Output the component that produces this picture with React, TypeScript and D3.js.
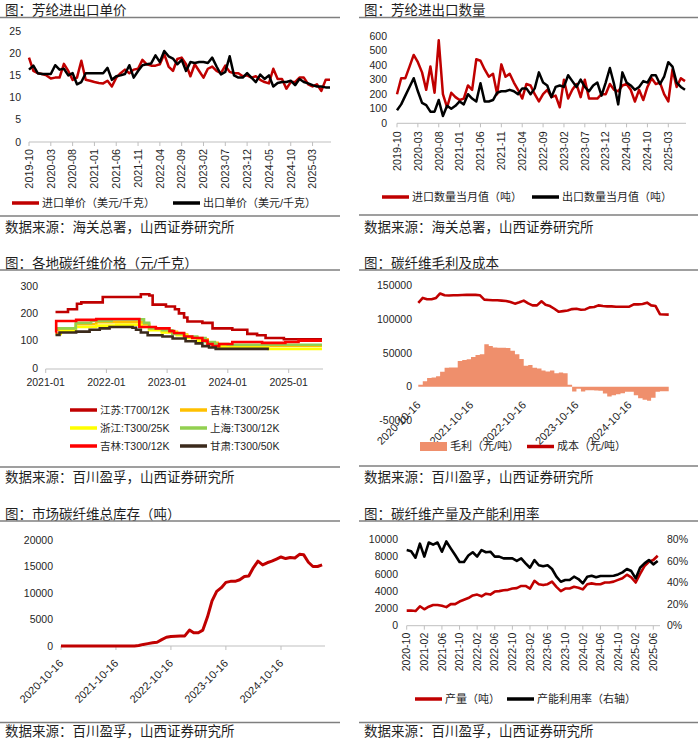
import * as d3 from "d3";

const FONT = "'Liberation Sans','Noto Sans CJK SC',sans-serif";
const INK = "#1f1f1f";
const AXIS_GREY = "#bfbfbf";
const RULE_GREY = "#7f7f7f";
const RED = "#C00000";

const fmtMonth = d3.timeFormat("%Y-%m");
const fmtDay = d3.timeFormat("%Y-%m-%d");
const parseDay = d3.timeParse("%Y-%m-%d");

// ---------- 芳纶进出口 (monthly 2019-10 … 2025-07)
const aramidMonths = d3.timeMonth.range(new Date(2019, 9, 1), new Date(2025, 7, 1)).map(fmtMonth);
const importPrice = [
  19, 16, 15.5, 15.3, 15, 14.3, 14.5, 14.5, 17.6, 16,
  14, 14.5, 18.3, 14, 13.8, 13.5, 13.3, 13.2, 13.8, 12.5,
  14.5, 15.5, 16.3, 15.5, 16.3, 16.5, 18.5, 17.5, 17.2, 17.2,
  17.5, 19.8, 17, 16, 18.7, 19, 17.5, 14.8, 17.5, 16,
  14.5, 16.5, 17, 16, 15.5, 17.2, 15.8, 15.5, 15.5, 14.8,
  15, 14.5, 14.8, 14, 13.5, 13.2, 16.5, 14.2, 14.2, 12,
  13.5, 13.5, 14.5, 14.5, 13, 12.5, 13, 11.5, 14, 14,
];
const exportPrice = [
  16.3, 17.2, 15.5, 15.3, 15.3, 15.3, 17.3, 16.3, 16.5, 15,
  15.5, 13, 13.5, 15.5, 15.5, 15.5, 15.5, 15.5, 16.7, 14,
  14.8, 15, 15.3, 17.3, 14.5, 16, 17.3, 17.5, 17.7, 19.5,
  18, 20.5, 19.3, 18.8, 17.5, 18.5, 16, 18, 17.8, 18,
  18, 17.8, 19, 17, 15.2, 15.8, 19.3, 15, 14.5, 14.5,
  15.5, 14.5, 13.5, 15.2, 14.2, 15, 12.5, 13.3, 13.5, 13.5,
  13.8, 12.8, 14.2, 13.5, 13.2, 12.8, 12.5, 12.5, 12.3, 12.3,
];
const importQty = [
  200, 310, 310, 390, 470, 420, 350, 230, 390, 210,
  570, 200, 110, 210, 180, 160, 170, 260, 230, 440,
  430, 370, 320, 340, 200, 405, 320, 340, 280, 230,
  170, 270, 260, 200, 150, 200, 230, 180, 190, 110,
  300, 170, 230, 270, 180, 300, 170, 170, 170, 200,
  200, 270, 230, 220, 260, 270, 230, 150, 230, 160,
  250, 310, 270, 280, 200, 150, 370, 250, 310, 290,
];
const exportQty = [
  90, 130, 190, 250, 310, 220, 140, 125, 80, 80,
  160, 50, 120, 100, 120, 150, 130, 200, 170, 150,
  275, 150, 150, 160, 210, 220, 220, 230, 220, 200,
  240, 240, 200, 240, 350, 280, 260, 180, 250, 260,
  250, 330, 290, 250, 300, 250, 220, 260, 280, 190,
  280, 380, 270, 130, 350, 280, 260, 230, 250, 290,
  280, 330, 330, 270, 320, 420, 390, 280, 250, 230,
];
const priceTicks = [0, 5, 10, 15, 20, 25];
const qtyTicks = [0, 100, 200, 300, 400, 500, 600];

// ---------- 各地碳纤维价格 (元/千克), step series [change date, price]
const cfJiangsuT700: [string, number][] = [
  ["2021-03-01", 205], ["2021-05-15", 215], ["2021-07-08", 235], ["2021-08-03", 240],
  ["2021-12-10", 260], ["2022-07-27", 270], ["2022-09-16", 265], ["2022-10-06", 232],
  ["2022-12-25", 225], ["2023-02-17", 215], ["2023-03-13", 200], ["2023-04-13", 185],
  ["2023-05-03", 170], ["2023-08-01", 165], ["2023-10-01", 145], ["2024-01-28", 140],
  ["2024-04-27", 125], ["2024-06-25", 120], ["2024-08-15", 110], ["2024-12-03", 105],
  ["2025-07-20", 105],
];
const cfJilinT300_25K: [string, number][] = [
  ["2021-03-01", 140], ["2021-07-01", 160], ["2021-11-01", 168], ["2022-08-01", 160],
  ["2022-09-15", 140], ["2022-12-01", 132], ["2023-03-01", 122], ["2023-05-01", 112],
  ["2023-07-01", 105], ["2023-09-01", 92], ["2023-11-01", 85], ["2024-01-01", 82],
  ["2025-07-20", 82],
];
const cfZhejiangT300_25K: [string, number][] = [
  ["2021-03-01", 125], ["2021-04-01", 135], ["2021-07-01", 150], ["2021-11-01", 155],
  ["2022-03-01", 158], ["2022-08-01", 150], ["2022-09-15", 138], ["2022-12-01", 130],
  ["2023-03-01", 120], ["2023-05-01", 110], ["2023-07-01", 100], ["2023-09-01", 88],
  ["2023-11-01", 78], ["2024-01-01", 75], ["2024-09-01", 70], ["2025-07-20", 70],
];
const cfShanghaiT300_12K: [string, number][] = [
  ["2021-03-01", 145], ["2021-07-01", 165], ["2021-10-01", 172], ["2022-02-01", 178],
  ["2022-08-15", 165], ["2022-09-15", 145], ["2022-12-01", 138], ["2023-02-01", 125],
  ["2023-04-15", 115], ["2023-07-01", 110], ["2023-08-20", 95], ["2023-10-15", 88],
  ["2024-01-01", 85], ["2025-07-20", 85],
];
const cfJilinT300_12K: [string, number][] = [
  ["2021-03-01", 130], ["2021-03-05", 172], ["2021-07-03", 176], ["2021-11-01", 179],
  ["2022-07-18", 150], ["2022-10-25", 145], ["2023-01-15", 135], ["2023-02-12", 128],
  ["2023-04-13", 115], ["2023-06-01", 110], ["2023-08-01", 100], ["2023-09-01", 88],
  ["2023-10-01", 80], ["2023-11-10", 88], ["2024-01-28", 95], ["2024-07-25", 92],
  ["2024-12-12", 95], ["2025-03-01", 100], ["2025-07-20", 100],
];
const cfGansuT300_50K: [string, number][] = [
  ["2021-03-01", 121], ["2021-03-25", 130], ["2021-07-03", 133], ["2021-09-22", 140],
  ["2021-11-22", 145], ["2022-01-20", 150], ["2022-06-07", 147], ["2022-06-28", 140],
  ["2022-07-27", 130], ["2022-09-06", 120], ["2022-12-04", 115], ["2023-02-03", 108],
  ["2023-04-22", 98], ["2023-06-22", 90], ["2023-08-01", 80], ["2023-09-10", 75],
  ["2023-10-20", 70], ["2024-09-04", 70],
];
const cfPriceSeries = [
  { name: "江苏:T700/12K", color: "#C00000", data: cfJiangsuT700 },
  { name: "吉林:T300/25K", color: "#FFC000", data: cfJilinT300_25K },
  { name: "浙江:T300/25K", color: "#FFFF00", data: cfZhejiangT300_25K },
  { name: "上海:T300/12K", color: "#92D050", data: cfShanghaiT300_12K },
  { name: "吉林:T300/12K", color: "#FF0000", data: cfJilinT300_12K },
  { name: "甘肃:T300/50K", color: "#3B2A1C", data: cfGansuT300_50K },
];
const cfPriceTicks = [0, 100, 200, 300];
const cfPriceYears = ["2021-01-01", "2022-01-01", "2023-01-01", "2024-01-01", "2025-01-01"];

// ---------- 毛利及成本 / 库存 (mid-month from 2020-10-16)
const cfMidMonths = d3
  .timeMonth.range(new Date(2020, 9, 1), new Date(2025, 7, 1))
  .map((d) => d3.timeDay.offset(d, 15));
const cfCost = [
  123500, 131000, 129000, 129000, 131000, 137500, 135000, 134500, 135000, 135000,
  135300, 135500, 135500, 135500, 135000, 128500, 128000, 127500, 127500, 127000,
  126500, 125000, 122500, 124500, 127000, 123000, 120000, 120000, 126000, 121000,
  119000, 115000, 110500, 111500, 112500, 114500, 115000, 113500, 114000, 117000,
  117500, 120000, 119000, 118500, 118500, 118000, 118000, 118000, 118000, 121500,
  121500, 122000, 124000, 120000, 119000, 107000, 106500, 106300,
];
const cfProfit = [
  3000, 8000, 13000, 13700, 15500, 22000, 28000, 28500, 28500, 38000,
  39500, 40500, 44000, 47000, 48000, 62500, 60000, 58000, 57500, 57500,
  57000, 53000, 48000, 41000, 31000, 32000, 28000, 27000, 24000, 22500,
  24000, 20000, 21000, 20000, 3000, -7000, -3000, -7000, -5000, -5000,
  -5500, -6000, -10000, -14500, -12500, -11000, -9500, -7500, -7500, -12500,
  -17000, -19000, -20500, -16000, -7500, -6500, -6500, -6500,
];
const cfInventory = [
  0, 0, 0, 0, 0, 0, 0, 0, 0, 0,
  0, 0, 0, 0, 0, 0, 0, 100, 300, 450,
  600, 700, 1200, 1650, 1800, 1850, 1900, 1900, 3000, 2500,
  2500, 3000, 5500, 8500, 10300, 11000, 12000, 12200, 12200, 12500,
  13100, 13200, 14800, 16000, 15300, 15700, 16000, 16400, 16800, 16500,
  16700, 16600, 17300, 17200, 15800, 15000, 15000, 15300,
];
const cfYearTicks = ["2020-10-16", "2021-10-16", "2022-10-16", "2023-10-16", "2024-10-16"];
const profitTicks = [-50000, 0, 50000, 100000, 150000];
const inventoryTicks = [0, 5000, 10000, 15000, 20000];

// ---------- 产量及产能利用率 (monthly 2020-10 … 2025-07)
const prodMonths = d3.timeMonth.range(new Date(2020, 9, 1), new Date(2025, 7, 1)).map(fmtMonth);
const cfOutput = [
  1750, 1750, 1700, 2250, 1900, 2200, 2400, 2400, 2300, 2150,
  2500, 2500, 2800, 3000, 3200, 3500, 3600, 3400, 3700, 3600,
  3950, 4000, 4100, 4150, 4300, 4350, 4600, 4600, 4300, 5200,
  4800, 4700, 4800, 5100, 4500, 4000, 4300, 4300, 4500, 4400,
  4200, 4800, 4900, 4800, 4800, 5000, 5000, 5100, 5300, 5500,
  5900, 5600, 5000, 6000, 6900, 7400, 7600, 8100,
];
const cfUtil = [
  0.7, 0.69, 0.63, 0.76, 0.64, 0.77, 0.75, 0.77, 0.685, 0.78,
  0.716, 0.654, 0.59, 0.59, 0.65, 0.68, 0.64, 0.7, 0.68, 0.685,
  0.64, 0.64, 0.623, 0.623, 0.623, 0.6, 0.623, 0.577, 0.537, 0.608,
  0.56, 0.55, 0.56, 0.525, 0.454, 0.407, 0.423, 0.423, 0.454, 0.432,
  0.392, 0.454, 0.463, 0.448, 0.46, 0.46, 0.46, 0.463, 0.475, 0.494,
  0.525, 0.506, 0.438, 0.537, 0.577, 0.608, 0.568, 0.6,
];
const outputTicks = [0, 2000, 4000, 6000, 8000, 10000];
const utilTicks = [0, 0.2, 0.4, 0.6, 0.8];

function Frame({ x0, x1, titleY, title, sepY, sourceY, source }: {
  x0: number; x1: number; titleY: number; title: string; sepY: number; sourceY: number; source: string;
}) {
  return (
    <g>
      <text x={x0 + 5} y={titleY - 2.5} fontSize={13.5} fill={INK}>{title}</text>
      <line x1={x0} x2={x1} y1={titleY} y2={titleY} stroke={RULE_GREY} strokeWidth={1.3} />
      <line x1={x0} x2={x1} y1={sepY} y2={sepY} stroke={RULE_GREY} strokeWidth={1.3} />
      <text x={x0 + 5} y={sourceY} fontSize={13.5} fill={INK}>{source}</text>
    </g>
  );
}

function LegendLine({ x, y, color, label, w = 27 }: { x: number; y: number; color: string; label: string; w?: number }) {
  return (
    <g>
      <line x1={x} x2={x + w} y1={y} y2={y} stroke={color} strokeWidth={3.5} />
      <text x={x + w + 3} y={y} dy="0.36em" fontSize={11} fill={INK}>{label}</text>
    </g>
  );
}

function YLabels({ ticks, scale, x, fmt = (v: number) => String(v), anchor = "end" }: {
  ticks: number[]; scale: (v: number) => number; x: number; fmt?: (v: number) => string; anchor?: string;
}) {
  return (
    <g>
      {ticks.map((t) => (
        <text key={t} x={x} y={scale(t)} dy="0.35em" textAnchor={anchor} fontSize={10.5} fill={INK}>{fmt(t)}</text>
      ))}
    </g>
  );
}

function MonthlyChart({ values, colors, yTicks, yDomain, yRange, xRange, labelX, labelGap, legend, legendY }: {
  values: number[][]; colors: string[]; yTicks: number[]; yDomain: [number, number]; yRange: [number, number];
  xRange: [number, number]; labelX: number; labelGap: number; legend: { x: number; label: string }[]; legendY: number;
}) {
  const x = d3.scalePoint<string>().domain(aramidMonths).range(xRange);
  const y = d3.scaleLinear(yDomain, yRange);
  const base = y(0);
  const line = d3.line<number>().x((_, i) => x(aramidMonths[i])!).y((v) => y(v));
  const shown = aramidMonths.filter((_, i) => i % 5 === 0);
  return (
    <g>
      <YLabels ticks={yTicks} scale={y} x={labelX} />
      <line x1={xRange[0]} x2={xRange[1] + 1} y1={base} y2={base} stroke={AXIS_GREY} />
      {shown.map((m) => (
        <g key={m}>
          <line x1={x(m)} x2={x(m)} y1={base} y2={base + 4} stroke={AXIS_GREY} />
          <text transform={`translate(${x(m)},${base + labelGap}) rotate(-90)`} textAnchor="end" dy="0.35em" fontSize={10.8} fill={INK}>{m}</text>
        </g>
      ))}
      {values.map((vals, k) => (
        <path key={k} d={line(vals)!} fill="none" stroke={colors[k]} strokeWidth={2.5} strokeLinejoin="round" />
      ))}
      {legend.map((l, k) => (
        <LegendLine key={k} x={l.x} y={legendY} color={colors[k]} label={l.label} />
      ))}
    </g>
  );
}

function CfPriceChart() {
  const x = d3.scaleTime([parseDay("2021-01-01")!, parseDay("2025-01-01")!], [45.7, 288.7]);
  const y = d3.scaleLinear([0, 300], [368, 286]);
  const line = d3.line<[string, number]>().x((d) => x(parseDay(d[0])!)).y((d) => y(d[1])).curve(d3.curveStepAfter);
  const legendPos = [
    { x: 70, y: 410 }, { x: 180, y: 410 },
    { x: 70, y: 428 }, { x: 180, y: 428 },
    { x: 70, y: 446 }, { x: 180, y: 446 },
  ];
  return (
    <g>
      <YLabels ticks={cfPriceTicks} scale={y} x={38} />
      <line x1={45.7} x2={323} y1={y(0) + 1} y2={y(0) + 1} stroke={AXIS_GREY} />
      {cfPriceYears.map((d) => {
        const px = x(parseDay(d)!);
        return (
          <g key={d}>
            <line x1={px} x2={px} y1={y(0) + 1} y2={y(0) + 5} stroke={AXIS_GREY} />
            <text x={px} y={386} textAnchor="middle" fontSize={10.5} fill={INK}>{d.slice(0, 7)}</text>
          </g>
        );
      })}
      {cfPriceSeries.map((s) => (
        <path key={s.name} d={line(s.data)!} fill="none" stroke={s.color} strokeWidth={2.6} />
      ))}
      {cfPriceSeries.map((s, i) => (
        <g key={s.name}>
          <line x1={legendPos[i].x} x2={legendPos[i].x + 27} y1={legendPos[i].y} y2={legendPos[i].y} stroke={s.color} strokeWidth={3.5} />
          <text x={legendPos[i].x + 30} y={legendPos[i].y} dy="0.36em" fontSize={10.5} fill={INK}>{s.name}</text>
        </g>
      ))}
    </g>
  );
}

function ProfitCostChart() {
  const x = d3.scaleTime([parseDay("2020-10-16")!, parseDay("2024-10-16")!], [418.3, 629.3]);
  const y = d3.scaleLinear([-50000, 150000], [420.7, 285]);
  const area = d3.area<number>().x((_, i) => x(cfMidMonths[i])).y0(y(0)).y1((v) => y(v)).curve(d3.curveStepAfter);
  const line = d3.line<number>().x((_, i) => x(cfMidMonths[i])).y((v) => y(v));
  return (
    <g>
      <YLabels ticks={profitTicks} scale={y} x={412} />
      <path d={area(cfProfit)!} fill="#EF8F6C" />
      <path d={line(cfCost)!} fill="none" stroke={RED} strokeWidth={2.6} strokeLinejoin="round" />
      {cfYearTicks.map((d) => {
        const px = x(parseDay(d)!);
        return (
          <text key={d} transform={`translate(${px + 3},${y(0) + 19}) rotate(-45)`} textAnchor="end" fontSize={11} fill={INK}>{d}</text>
        );
      })}
      <rect x={420} y={442} width={27} height={9} fill="#EF8F6C" />
      <text x={450} y={446.5} dy="0.36em" fontSize={11} fill={INK}>毛利（元/吨）</text>
      <LegendLine x={527} y={446.5} color={RED} label="成本（元/吨）" />
    </g>
  );
}

function InventoryChart() {
  const x = d3.scaleTime([parseDay("2020-10-16")!, parseDay("2024-10-16")!], [61, 281]);
  const y = d3.scaleLinear([0, 20000], [646, 540]);
  const line = d3.line<number>().x((_, i) => x(cfMidMonths[i])).y((v) => y(v));
  return (
    <g>
      <YLabels ticks={inventoryTicks} scale={y} x={53} />
      <line x1={61} x2={325} y1={y(0)} y2={y(0)} stroke={AXIS_GREY} />
      {cfYearTicks.map((d) => {
        const px = x(parseDay(d)!);
        return (
          <g key={d}>
            <line x1={px} x2={px} y1={y(0)} y2={y(0) + 4} stroke={AXIS_GREY} />
            <text transform={`translate(${px + 3},${y(0) + 18}) rotate(-45)`} textAnchor="end" fontSize={11} fill={INK}>{d}</text>
          </g>
        );
      })}
      <path d={line(cfInventory)!} fill="none" stroke={RED} strokeWidth={3} strokeLinejoin="round" />
    </g>
  );
}

function OutputChart() {
  const x = d3.scalePoint<string>().domain(prodMonths).range([406.7, 657.7]);
  const yl = d3.scaleLinear([0, 10000], [625.7, 539.3]);
  const yr = d3.scaleLinear([0, 0.8], [625.7, 539.3]);
  const base = yl(0);
  const lineL = d3.line<number>().x((_, i) => x(prodMonths[i])!).y((v) => yl(v));
  const lineR = d3.line<number>().x((_, i) => x(prodMonths[i])!).y((v) => yr(v));
  const shown = prodMonths.filter((_, i) => i % 4 === 0);
  return (
    <g>
      <YLabels ticks={outputTicks} scale={yl} x={398} />
      <YLabels ticks={utilTicks} scale={yr} x={667} anchor="start" fmt={d3.format(".0%")} />
      <line x1={406.7} x2={660} y1={base} y2={base} stroke={AXIS_GREY} />
      {shown.map((m) => (
        <g key={m}>
          <line x1={x(m)} x2={x(m)} y1={base} y2={base + 4} stroke={AXIS_GREY} />
          <text transform={`translate(${x(m)},${base + 7}) rotate(-90)`} textAnchor="end" dy="0.35em" fontSize={10.5} fill={INK}>{m}</text>
        </g>
      ))}
      <path d={lineL(cfOutput)!} fill="none" stroke={RED} strokeWidth={2.6} strokeLinejoin="round" />
      <path d={lineR(cfUtil)!} fill="none" stroke="#000" strokeWidth={2.6} strokeLinejoin="round" />
      <LegendLine x={415} y={699} color={RED} label="产量（吨）" />
      <LegendLine x={507} y={699} color="#000" label="产能利用率（右轴）" />
    </g>
  );
}

export default function App() {
  return (
    <svg
      width={700}
      height={739}
      viewBox="0 0 700 739"
      style={{ position: "absolute", left: 0, top: 0, background: "#fff" }}
      fontFamily={FONT}
    >
      <Frame x0={0} x1={340} titleY={17.5} title="图：芳纶进出口单价" sepY={216} sourceY={231.5} source="数据来源：海关总署，山西证券研究所" />
      <Frame x0={359} x1={698} titleY={17.5} title="图：芳纶进出口数量" sepY={215} sourceY={231.5} source="数据来源：海关总署，山西证券研究所" />
      <Frame x0={0} x1={340} titleY={270} title="图：各地碳纤维价格（元/千克）" sepY={467} sourceY={482} source="数据来源：百川盈孚，山西证券研究所" />
      <Frame x0={359} x1={698} titleY={270} title="图：碳纤维毛利及成本" sepY={466} sourceY={482} source="数据来源：百川盈孚，山西证券研究所" />
      <Frame x0={0} x1={340} titleY={521} title="图：市场碳纤维总库存（吨）" sepY={722.5} sourceY={736} source="数据来源：百川盈孚，山西证券研究所" />
      <Frame x0={359} x1={698} titleY={521} title="图：碳纤维产量及产能利用率" sepY={722.5} sourceY={736} source="数据来源：百川盈孚，山西证券研究所" />

      <MonthlyChart
        values={[importPrice, exportPrice]}
        colors={[RED, "#000"]}
        yTicks={priceTicks}
        yDomain={[0, 25]}
        yRange={[142, 31]}
        xRange={[29, 330]}
        labelX={21}
        labelGap={7}
        legend={[{ x: 12, label: "进口单价（美元/千克）" }, { x: 173, label: "出口单价（美元/千克）" }]}
        legendY={203}
      />
      <MonthlyChart
        values={[importQty, exportQty]}
        colors={[RED, "#000"]}
        yTicks={qtyTicks}
        yDomain={[0, 600]}
        yRange={[123.3, 36]}
        xRange={[397, 685]}
        labelX={387}
        labelGap={8}
        legend={[{ x: 382, label: "进口数量当月值（吨）" }, { x: 532, label: "出口数量当月值（吨）" }]}
        legendY={197}
      />
      <CfPriceChart />
      <ProfitCostChart />
      <InventoryChart />
      <OutputChart />
    </svg>
  );
}
